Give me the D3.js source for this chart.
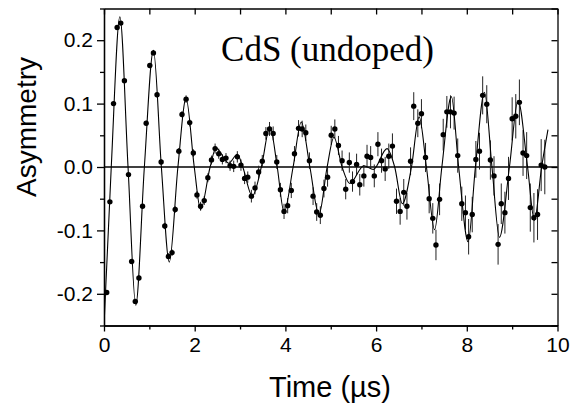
<!DOCTYPE html>
<html>
<head>
<meta charset="utf-8">
<script src="https://cdn.jsdelivr.net/npm/d3@7"></script>
<style>
  body { margin: 0; background: #fff; }
  .axis text { font-family: "Liberation Sans", Arial, sans-serif; font-size: 21px; fill: #000; }
  .axis path, .axis line { stroke: #000; stroke-width: 1.3; }
</style>
</head>
<body>
<div class="chart"></div>
<script>
// muSR data: time (us), asymmetry, error
const times = [0.06,0.13,0.21,0.29,0.37,0.45,0.54,0.61,0.69,0.77,0.85,0.93,1.01,1.09,1.17,1.26,1.34,1.42,1.50,1.57,
  1.65,1.72,1.81,1.89,1.97,2.05,2.13,2.21,2.29,2.37,2.45,2.53,2.61,2.69,2.78,2.86,2.94,3.02,3.10,3.17,
  3.25,3.33,3.41,3.49,3.57,3.65,3.73,3.81,3.89,3.97,4.05,4.13,4.20,4.29,4.37,4.45,4.53,4.61,4.69,4.77,
  4.85,4.93,5.01,5.09,5.17,5.25,5.33,5.41,5.48,5.57,5.64,5.73,5.80,5.88,5.96,6.04,6.12,6.20,6.28,6.36,
  6.45,6.53,6.61,6.68,6.76,6.83,6.92,7.00,7.09,7.17,7.25,7.32,7.40,7.48,7.56,7.64,7.72,7.80,7.89,7.97,
  8.04,8.12,8.20,8.28,8.35,8.44,8.52,8.60,8.69,8.76,8.84,8.92,9.00,9.08,9.16,9.24,9.32,9.40,9.48,9.56,
  9.64,9.72]
const asym = [-0.198,-0.055,0.100,0.220,0.227,0.136,-0.012,-0.149,-0.212,-0.175,-0.062,0.069,0.160,0.180,0.114,0.008,-0.093,-0.141,-0.135,-0.067,
  0.025,0.083,0.107,0.070,0.022,-0.044,-0.062,-0.053,-0.017,0.011,0.029,0.021,0.012,0.014,0.002,0.001,0.016,0.003,-0.018,-0.016,
  -0.046,-0.033,-0.008,0.009,0.053,0.060,0.053,0.008,-0.036,-0.070,-0.061,-0.037,0.021,0.061,0.060,0.054,0.010,-0.046,-0.071,-0.076,
  -0.034,-0.016,0.050,0.060,0.034,0.010,-0.035,0.007,-0.023,0.004,-0.028,-0.014,0.017,0.015,-0.014,0.036,0.010,-0.003,0.017,0.033,
  -0.054,-0.070,-0.040,-0.062,0.009,0.096,0.069,0.084,0.015,-0.050,-0.081,-0.123,-0.051,0.051,0.087,0.087,0.085,0.018,-0.058,-0.072,
  -0.110,-0.075,0.012,0.025,0.113,0.099,0.011,-0.014,-0.122,-0.058,-0.072,-0.018,0.076,0.080,0.102,0.022,0.018,-0.064,-0.080,-0.075,
  0.003,0.000]
const errs = [0.003,0.003,0.003,0.003,0.003,0.003,0.003,0.003,0.004,0.004,0.004,0.004,0.004,0.004,0.004,0.004,0.005,0.005,0.005,0.005,
  0.005,0.005,0.006,0.006,0.006,0.006,0.007,0.007,0.007,0.007,0.008,0.008,0.008,0.008,0.008,0.009,0.009,0.009,0.009,0.009,
  0.010,0.010,0.010,0.010,0.010,0.011,0.011,0.011,0.011,0.012,0.012,0.012,0.012,0.013,0.013,0.013,0.013,0.014,0.014,0.014,
  0.014,0.015,0.015,0.015,0.015,0.016,0.016,0.016,0.016,0.017,0.017,0.017,0.018,0.018,0.018,0.019,0.019,0.019,0.020,0.020,
  0.020,0.021,0.021,0.021,0.022,0.022,0.022,0.023,0.023,0.023,0.024,0.024,0.025,0.025,0.025,0.026,0.026,0.027,0.027,0.027,
  0.028,0.028,0.029,0.029,0.030,0.030,0.031,0.031,0.032,0.032,0.033,0.034,0.034,0.035,0.036,0.036,0.037,0.038,0.039,0.040,
  0.041,0.043]

const fitT = [0,0.16,0.35,0.53,0.70,0.89,1.09,1.265,1.44,1.63,1.81,1.99,2.13,2.34,2.47,2.75,2.94,3.06,3.27,3.47,
  3.66,3.82,3.97,4.17,4.35,4.54,4.74,4.92,5.07,5.25,5.42,5.73,5.94,6.24,6.41,6.58,6.78,6.95,7.11,7.29,
  7.45,7.66,7.82,8.03,8.19,8.39,8.555,8.72,8.94,9.13,9.34,9.49,9.65,9.79]
const fitA = [-0.25,0,0.237,0,-0.218,0,0.184,0,-0.150,0,0.108,0,-0.067,0,0.030,0.006,0.020,0,-0.046,0,
  0.063,0,-0.071,0,0.071,0,-0.075,0,0.047,0,-0.026,0.002,-0.004,0.029,0,-0.058,0,0.079,0,-0.099,
  0,0.111,0,-0.118,0,0.118,0,-0.111,0,0.105,0,-0.084,0,0.059]

const xTicks = [0,2,4,6,8,10]
const xMinor = [1,3,5,7,9]
const yTicks = [-0.2,-0.1,0.0,0.1,0.2]
const yMinor = [-0.25,-0.15,-0.05,0.05,0.15,0.25]

const margin = {top: 8.5, right: 16.5, bottom: 77.5, left: 104}
const width = 574 - margin.left - margin.right
const height = 403 - margin.top - margin.bottom

const root = d3.select('.chart')
  .append('svg')
    .attr('width', 574)
    .attr('height', 403)

const svg = root.append('g')
    .attr('transform', `translate(${margin.left}, ${margin.top})`)

const x = d3.scaleLinear().domain([0, 10]).range([0, width])
const y = d3.scaleLinear().domain([-0.25, 0.25]).range([height, 0])

const fmt = d => d3.format('.1f')(d).replace('−', '-')

svg.append('defs').append('clipPath').attr('id', 'clip')
  .append('rect').attr('width', width).attr('height', height)

// axes: bottom/left outward, top/right inward
svg.append('g').attr('class', 'axis')
  .attr('transform', `translate(0, ${height})`)
  .call(d3.axisBottom(x).tickValues(xTicks).tickSize(6).tickSizeOuter(0).tickPadding(6))
svg.append('g').attr('class', 'axis')
  .attr('transform', `translate(0, ${height})`)
  .call(d3.axisBottom(x).tickValues(xMinor).tickSize(4).tickSizeOuter(0).tickFormat(''))

svg.append('g').attr('class', 'axis')
  .call(d3.axisLeft(y).tickValues(yTicks).tickSize(7).tickSizeOuter(0).tickPadding(4).tickFormat(fmt))
svg.append('g').attr('class', 'axis')
  .call(d3.axisLeft(y).tickValues(yMinor).tickSize(4).tickSizeOuter(0).tickFormat(''))

svg.append('g').attr('class', 'axis')
  .call(d3.axisTop(x).tickValues(xTicks.concat(xMinor)).tickSize(-6).tickSizeOuter(0).tickFormat(''))
svg.append('g').attr('class', 'axis')
  .attr('transform', `translate(${width}, 0)`)
  .call(d3.axisRight(y).tickValues(yTicks.concat(yMinor)).tickSize(-6).tickSizeOuter(0).tickFormat(''))

// zero line
svg.append('line')
  .attr('x1', 0).attr('x2', width)
  .attr('y1', y(0)).attr('y2', y(0))
  .attr('stroke', '#000').attr('stroke-width', 1.4)

const plot = svg.append('g').attr('clip-path', 'url(#clip)')

const pts = times.map((t, i) => ({t: t, a: asym[i], e: errs[i]}))

// error bars
plot.selectAll('.err')
  .data(pts)
  .enter()
  .append('line')
    .attr('class', 'err')
    .attr('x1', d => x(d.t)).attr('x2', d => x(d.t))
    .attr('y1', d => y(d.a - d.e)).attr('y2', d => y(d.a + d.e))
    .attr('stroke', '#222').attr('stroke-width', 1)

// fit
const fit = fitT.map((t, i) => [t, fitA[i]])
plot.append('path')
  .datum(fit)
  .attr('d', d3.line().x(d => x(d[0])).y(d => y(d[1])).curve(d3.curveMonotoneX))
  .attr('fill', 'none')
  .attr('stroke', '#000')
  .attr('stroke-width', 1.1)

// points
plot.selectAll('.dot')
  .data(pts)
  .enter()
  .append('circle')
    .attr('class', 'dot')
    .attr('cx', d => x(d.t))
    .attr('cy', d => y(d.a))
    .attr('r', 2.7)
    .attr('fill', '#000')

// labels
root.append('text')
  .attr('x', 327.5).attr('y', 61)
  .attr('text-anchor', 'middle')
  .style('font-family', '"Liberation Serif", "Times New Roman", serif')
  .style('font-size', '35px')
  .text('CdS (undoped)')

root.append('text')
  .attr('transform', 'translate(36, 127) rotate(-90)')
  .attr('text-anchor', 'middle')
  .style('font-family', '"Liberation Sans", Arial, sans-serif')
  .style('font-size', '28px')
  .text('Asymmetry')

root.append('text')
  .attr('x', 330).attr('y', 397)
  .attr('text-anchor', 'middle')
  .style('font-family', '"Liberation Sans", Arial, sans-serif')
  .style('font-size', '29px')
  .text('Time (µs)')
</script>
</body>
</html>
